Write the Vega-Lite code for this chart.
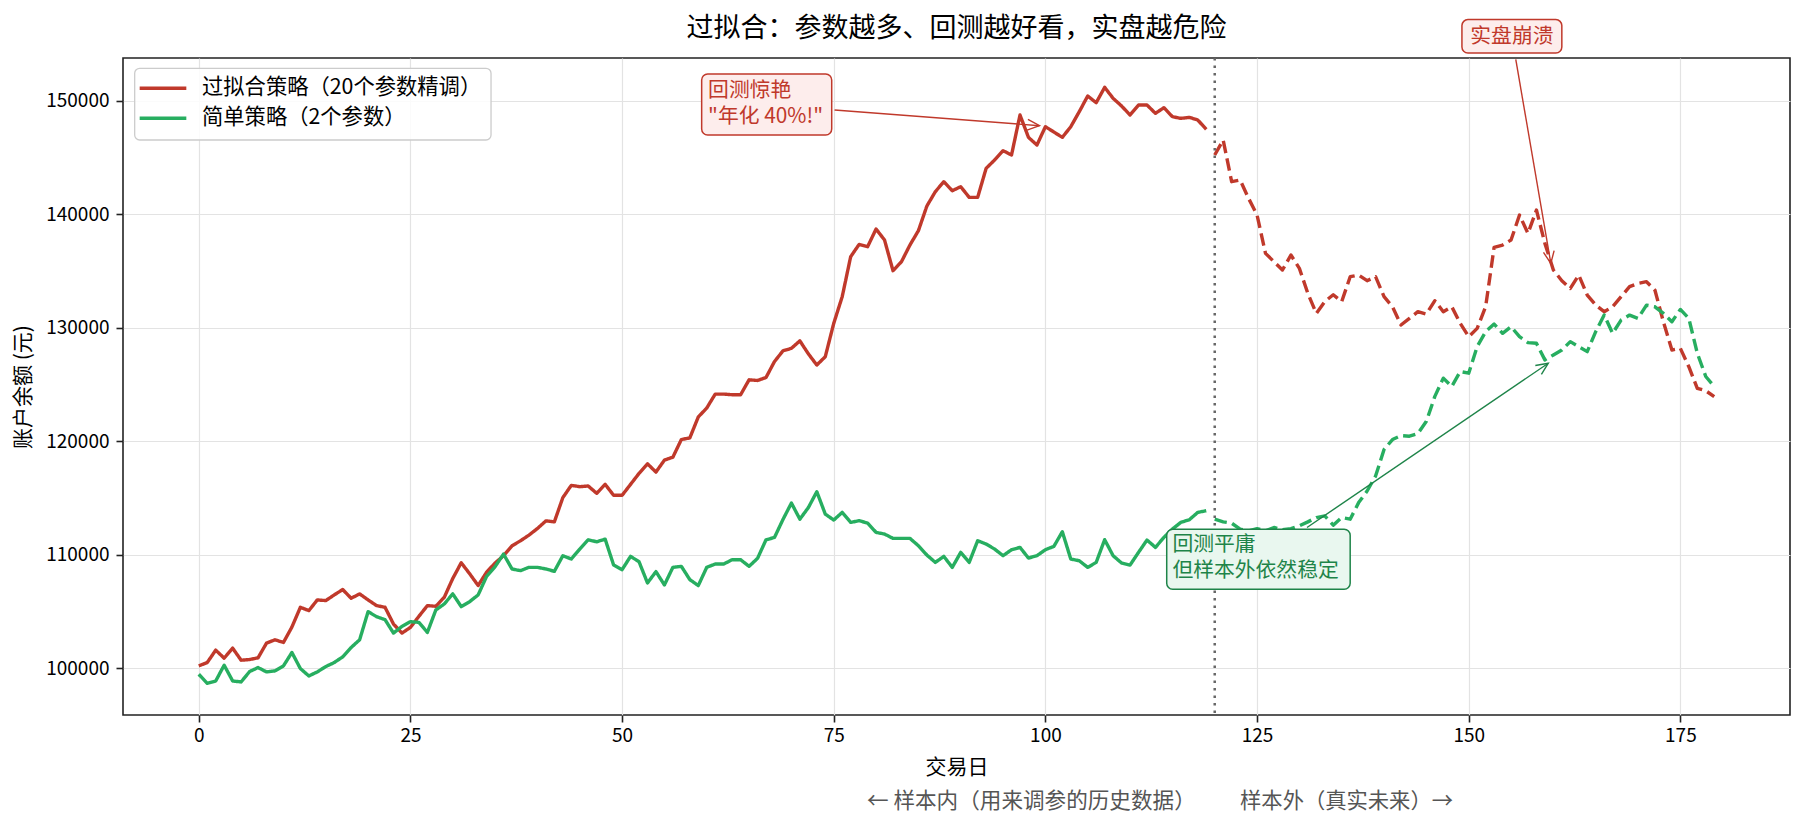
{
"$schema": "https://vega.github.io/schema/vega-lite/v6.json",
"autosize": {"type": "none"},
"padding": {"left": 123, "top": 58, "right": 14, "bottom": 110},
"width": 1667,
"height": 657,
"background": "white",
"title": {"text": "过拟合：参数越多、回测越好看，实盘越危险", "fontSize": 27, "fontWeight": "normal", "color": "#000000", "frame": "group", "anchor": "middle", "baseline": "alphabetic", "offset": -45},
"config": {
  "font": "Noto Sans CJK SC",
  "view": {"stroke": "#222222", "strokeWidth": 1.6},
  "axis": {"gridColor": "#e3e3e3", "gridWidth": 1.2, "tickColor": "#222222", "tickWidth": 1.6, "tickSize": 7, "labelColor": "#000000", "labelFontSize": 19, "titleFontSize": 21, "titleFontWeight": "normal", "titleColor": "#000000", "domain": false, "labelFlush": false, "labelOverlap": false}
},
"data": {"values": [
{"d":0,"s":"A","v":100206},{"d":1,"s":"A","v":100501},{"d":2,"s":"A","v":101593},{"d":3,"s":"A","v":100885},{"d":4,"s":"A","v":101770},{"d":5,"s":"A","v":100708},{"d":6,"s":"A","v":100767},{"d":7,"s":"A","v":100914},{"d":8,"s":"A","v":102212},{"d":9,"s":"A","v":102507},
{"d":10,"s":"A","v":102271},{"d":11,"s":"A","v":103628},{"d":12,"s":"A","v":105369},{"d":13,"s":"A","v":105074},{"d":14,"s":"A","v":106018},{"d":15,"s":"A","v":105959},{"d":16,"s":"A","v":106460},{"d":17,"s":"A","v":106932},{"d":18,"s":"A","v":106165},{"d":19,"s":"A","v":106549},
{"d":20,"s":"A","v":106018},{"d":21,"s":"A","v":105516},{"d":22,"s":"A","v":105369},{"d":23,"s":"A","v":103894},{"d":24,"s":"A","v":103097},{"d":25,"s":"A","v":103599},{"d":26,"s":"A","v":104572},{"d":27,"s":"A","v":105516},{"d":28,"s":"A","v":105457},{"d":29,"s":"A","v":106254},
{"d":30,"s":"A","v":107906},{"d":31,"s":"A","v":109292},{"d":32,"s":"A","v":108319},{"d":33,"s":"A","v":107286},{"d":34,"s":"A","v":108466},{"d":35,"s":"A","v":109270},{"d":36,"s":"A","v":109912},{"d":37,"s":"A","v":110789},{"d":38,"s":"A","v":111228},{"d":39,"s":"A","v":111725},
{"d":40,"s":"A","v":112310},{"d":41,"s":"A","v":112982},{"d":42,"s":"A","v":112895},{"d":43,"s":"A","v":115029},{"d":44,"s":"A","v":116111},{"d":45,"s":"A","v":115994},{"d":46,"s":"A","v":116053},{"d":47,"s":"A","v":115409},{"d":48,"s":"A","v":116199},{"d":49,"s":"A","v":115234},
{"d":50,"s":"A","v":115234},{"d":51,"s":"A","v":116199},{"d":52,"s":"A","v":117164},{"d":53,"s":"A","v":118012},{"d":54,"s":"A","v":117281},{"d":55,"s":"A","v":118333},{"d":56,"s":"A","v":118596},{"d":57,"s":"A","v":120146},{"d":58,"s":"A","v":120292},{"d":59,"s":"A","v":122135},
{"d":60,"s":"A","v":122924},{"d":61,"s":"A","v":124152},{"d":62,"s":"A","v":124152},{"d":63,"s":"A","v":124094},{"d":64,"s":"A","v":124094},{"d":65,"s":"A","v":125409},{"d":66,"s":"A","v":125351},{"d":67,"s":"A","v":125614},{"d":68,"s":"A","v":127018},{"d":69,"s":"A","v":127960},
{"d":70,"s":"A","v":128183},{"d":71,"s":"A","v":128840},{"d":72,"s":"A","v":127700},{"d":73,"s":"A","v":126711},{"d":74,"s":"A","v":127445},{"d":75,"s":"A","v":130382},{"d":76,"s":"A","v":132731},{"d":77,"s":"A","v":136256},{"d":78,"s":"A","v":137342},{"d":79,"s":"A","v":137137},
{"d":80,"s":"A","v":138693},{"d":81,"s":"A","v":137724},{"d":82,"s":"A","v":135022},{"d":83,"s":"A","v":135815},{"d":84,"s":"A","v":137284},{"d":85,"s":"A","v":138546},{"d":86,"s":"A","v":140720},{"d":87,"s":"A","v":141982},{"d":88,"s":"A","v":142863},{"d":89,"s":"A","v":142070},
{"d":90,"s":"A","v":142423},{"d":91,"s":"A","v":141483},{"d":92,"s":"A","v":141483},{"d":93,"s":"A","v":144038},{"d":94,"s":"A","v":144772},{"d":95,"s":"A","v":145595},{"d":96,"s":"A","v":145213},{"d":97,"s":"A","v":148737},{"d":98,"s":"A","v":146769},{"d":99,"s":"A","v":146094},
{"d":100,"s":"A","v":147709},{"d":101,"s":"A","v":147239},{"d":102,"s":"A","v":146769},{"d":103,"s":"A","v":147709},{"d":104,"s":"A","v":149031},{"d":105,"s":"A","v":150411},{"d":106,"s":"A","v":149824},{"d":107,"s":"A","v":151175},{"d":108,"s":"A","v":150206},{"d":109,"s":"A","v":149530},
{"d":110,"s":"A","v":148737},{"d":111,"s":"A","v":149618},{"d":112,"s":"A","v":149618},{"d":113,"s":"A","v":148884},{"d":114,"s":"A","v":149383},{"d":115,"s":"A","v":148590},{"d":116,"s":"A","v":148443},{"d":117,"s":"A","v":148532},{"d":118,"s":"A","v":148297},{"d":119,"s":"A","v":147474},
{"d":120,"s":"A","v":145213},{"d":121,"s":"A","v":146534},{"d":122,"s":"A","v":142863},{"d":123,"s":"A","v":143010},{"d":124,"s":"A","v":141395},{"d":125,"s":"A","v":139927},{"d":126,"s":"A","v":136549},{"d":127,"s":"A","v":135815},{"d":128,"s":"A","v":135081},{"d":129,"s":"A","v":136402},
{"d":130,"s":"A","v":135228},{"d":131,"s":"A","v":133025},{"d":132,"s":"A","v":131263},{"d":133,"s":"A","v":132300},{"d":134,"s":"A","v":132900},{"d":135,"s":"A","v":132300},{"d":136,"s":"A","v":134493},{"d":137,"s":"A","v":134640},{"d":138,"s":"A","v":134141},{"d":139,"s":"A","v":134493},
{"d":140,"s":"A","v":132731},{"d":141,"s":"A","v":131850},{"d":142,"s":"A","v":130235},{"d":143,"s":"A","v":130822},{"d":144,"s":"A","v":131410},{"d":145,"s":"A","v":131204},{"d":146,"s":"A","v":132379},{"d":147,"s":"A","v":131410},{"d":148,"s":"A","v":131850},{"d":149,"s":"A","v":130382},
{"d":150,"s":"A","v":129207},{"d":151,"s":"A","v":129941},{"d":152,"s":"A","v":131850},{"d":153,"s":"A","v":137078},{"d":154,"s":"A","v":137284},{"d":155,"s":"A","v":137724},{"d":156,"s":"A","v":139927},{"d":157,"s":"A","v":138311},{"d":158,"s":"A","v":140367},{"d":159,"s":"A","v":137430},
{"d":160,"s":"A","v":135081},{"d":161,"s":"A","v":134141},{"d":162,"s":"A","v":133465},{"d":163,"s":"A","v":134640},{"d":164,"s":"A","v":132878},{"d":165,"s":"A","v":131997},{"d":166,"s":"A","v":131410},{"d":167,"s":"A","v":131850},{"d":168,"s":"A","v":132731},{"d":169,"s":"A","v":133612},
{"d":170,"s":"A","v":133906},{"d":171,"s":"A","v":134053},{"d":172,"s":"A","v":133300},{"d":173,"s":"A","v":130500},{"d":174,"s":"A","v":128032},{"d":175,"s":"A","v":128179},{"d":176,"s":"A","v":126564},{"d":177,"s":"A","v":124655},{"d":178,"s":"A","v":124449},{"d":179,"s":"A","v":123921},
{"d":0,"s":"B","v":99469},{"d":1,"s":"B","v":98673},{"d":2,"s":"B","v":98879},{"d":3,"s":"B","v":100265},{"d":4,"s":"B","v":98879},{"d":5,"s":"B","v":98791},{"d":6,"s":"B","v":99705},{"d":7,"s":"B","v":100059},{"d":8,"s":"B","v":99676},{"d":9,"s":"B","v":99764},
{"d":10,"s":"B","v":100206},{"d":11,"s":"B","v":101386},{"d":12,"s":"B","v":99971},{"d":13,"s":"B","v":99322},{"d":14,"s":"B","v":99676},{"d":15,"s":"B","v":100147},{"d":16,"s":"B","v":100501},{"d":17,"s":"B","v":101003},{"d":18,"s":"B","v":101829},{"d":19,"s":"B","v":102507},
{"d":20,"s":"B","v":104985},{"d":21,"s":"B","v":104543},{"d":22,"s":"B","v":104277},{"d":23,"s":"B","v":103097},{"d":24,"s":"B","v":103687},{"d":25,"s":"B","v":104100},{"d":26,"s":"B","v":104041},{"d":27,"s":"B","v":103156},{"d":28,"s":"B","v":105133},{"d":29,"s":"B","v":105664},
{"d":30,"s":"B","v":106549},{"d":31,"s":"B","v":105428},{"d":32,"s":"B","v":105870},{"d":33,"s":"B","v":106460},{"d":34,"s":"B","v":108100},{"d":35,"s":"B","v":108950},{"d":36,"s":"B","v":110058},{"d":37,"s":"B","v":108743},{"d":38,"s":"B","v":108596},{"d":39,"s":"B","v":108889},
{"d":40,"s":"B","v":108889},{"d":41,"s":"B","v":108743},{"d":42,"s":"B","v":108538},{"d":43,"s":"B","v":109912},{"d":44,"s":"B","v":109620},{"d":45,"s":"B","v":110497},{"d":46,"s":"B","v":111316},{"d":47,"s":"B","v":111140},{"d":48,"s":"B","v":111374},{"d":49,"s":"B","v":109094},
{"d":50,"s":"B","v":108684},{"d":51,"s":"B","v":109854},{"d":52,"s":"B","v":109386},{"d":53,"s":"B","v":107515},{"d":54,"s":"B","v":108509},{"d":55,"s":"B","v":107339},{"d":56,"s":"B","v":108889},{"d":57,"s":"B","v":108977},{"d":58,"s":"B","v":107807},{"d":59,"s":"B","v":107281},
{"d":60,"s":"B","v":108889},{"d":61,"s":"B","v":109181},{"d":62,"s":"B","v":109181},{"d":63,"s":"B","v":109561},{"d":64,"s":"B","v":109561},{"d":65,"s":"B","v":108977},{"d":66,"s":"B","v":109678},{"d":67,"s":"B","v":111316},{"d":68,"s":"B","v":111520},{"d":69,"s":"B","v":113100},
{"d":70,"s":"B","v":114550},{"d":71,"s":"B","v":113135},{"d":72,"s":"B","v":114150},{"d":73,"s":"B","v":115551},{"d":74,"s":"B","v":113583},{"d":75,"s":"B","v":113054},{"d":76,"s":"B","v":113730},{"d":77,"s":"B","v":112849},{"d":78,"s":"B","v":112996},{"d":79,"s":"B","v":112790},
{"d":80,"s":"B","v":111968},{"d":81,"s":"B","v":111821},{"d":82,"s":"B","v":111439},{"d":83,"s":"B","v":111439},{"d":84,"s":"B","v":111439},{"d":85,"s":"B","v":110793},{"d":86,"s":"B","v":109971},{"d":87,"s":"B","v":109325},{"d":88,"s":"B","v":109853},{"d":89,"s":"B","v":108884},
{"d":90,"s":"B","v":110206},{"d":91,"s":"B","v":109325},{"d":92,"s":"B","v":111233},{"d":93,"s":"B","v":110940},{"d":94,"s":"B","v":110499},{"d":95,"s":"B","v":109912},{"d":96,"s":"B","v":110441},{"d":97,"s":"B","v":110646},{"d":98,"s":"B","v":109706},{"d":99,"s":"B","v":109912},
{"d":100,"s":"B","v":110441},{"d":101,"s":"B","v":110734},{"d":102,"s":"B","v":112026},{"d":103,"s":"B","v":109618},{"d":104,"s":"B","v":109471},{"d":105,"s":"B","v":108884},{"d":106,"s":"B","v":109325},{"d":107,"s":"B","v":111322},{"d":108,"s":"B","v":109912},{"d":109,"s":"B","v":109266},
{"d":110,"s":"B","v":109090},{"d":111,"s":"B","v":110206},{"d":112,"s":"B","v":111292},{"d":113,"s":"B","v":110646},{"d":114,"s":"B","v":111527},{"d":115,"s":"B","v":112261},{"d":116,"s":"B","v":112849},{"d":117,"s":"B","v":113084},{"d":118,"s":"B","v":113730},{"d":119,"s":"B","v":113877},
{"d":120,"s":"B","v":113129},{"d":121,"s":"B","v":112895},{"d":122,"s":"B","v":112778},{"d":123,"s":"B","v":112251},{"d":124,"s":"B","v":112100},{"d":125,"s":"B","v":112300},{"d":126,"s":"B","v":112100},{"d":127,"s":"B","v":112400},{"d":128,"s":"B","v":112200},{"d":129,"s":"B","v":112300},
{"d":130,"s":"B","v":112544},{"d":131,"s":"B","v":112895},{"d":132,"s":"B","v":113275},{"d":133,"s":"B","v":113421},{"d":134,"s":"B","v":112602},{"d":135,"s":"B","v":113275},{"d":136,"s":"B","v":113129},{"d":137,"s":"B","v":114591},{"d":138,"s":"B","v":115614},{"d":139,"s":"B","v":116930},
{"d":140,"s":"B","v":119269},{"d":141,"s":"B","v":120146},{"d":142,"s":"B","v":120497},{"d":143,"s":"B","v":120439},{"d":144,"s":"B","v":120673},{"d":145,"s":"B","v":121754},{"d":146,"s":"B","v":123947},{"d":147,"s":"B","v":125556},{"d":148,"s":"B","v":124825},{"d":149,"s":"B","v":126140},
{"d":150,"s":"B","v":125994},{"d":151,"s":"B","v":128333},{"d":152,"s":"B","v":129649},{"d":153,"s":"B","v":130322},{"d":154,"s":"B","v":129503},{"d":155,"s":"B","v":130088},{"d":156,"s":"B","v":129211},{"d":157,"s":"B","v":128684},{"d":158,"s":"B","v":128626},{"d":159,"s":"B","v":127164},
{"d":160,"s":"B","v":127602},{"d":161,"s":"B","v":128041},{"d":162,"s":"B","v":128772},{"d":163,"s":"B","v":128333},{"d":164,"s":"B","v":127895},{"d":165,"s":"B","v":129649},{"d":166,"s":"B","v":131111},{"d":167,"s":"B","v":129503},{"d":168,"s":"B","v":130673},{"d":169,"s":"B","v":131111},
{"d":170,"s":"B","v":130819},{"d":171,"s":"B","v":131988},{"d":172,"s":"B","v":131842},{"d":173,"s":"B","v":131257},{"d":174,"s":"B","v":130526},{"d":175,"s":"B","v":131608},{"d":176,"s":"B","v":130819},{"d":177,"s":"B","v":127749},{"d":178,"s":"B","v":125702},{"d":179,"s":"B","v":124825}
]},
"layer": [
{
  "transform": [{"calculate": "datum.d < 120 ? 'in' : 'out'", "as": "p"}],
  "mark": {"type": "line", "strokeWidth": 3.4, "strokeJoin": "round"},
  "encoding": {
    "x": {"field": "d", "type": "quantitative", "scale": {"domain": [-8.95, 187.95], "nice": false, "zero": false},
          "axis": {"values": [0, 25, 50, 75, 100, 125, 150, 175], "labelPadding": 4, "title": "交易日", "titleY": 52, "titleBaseline": "middle"}},
    "y": {"field": "v", "type": "quantitative", "scale": {"domain": [95880, 153760], "nice": false, "zero": false},
          "axis": {"values": [100000, 110000, 120000, 130000, 140000, 150000], "format": "d", "labelPadding": 7, "title": "账户余额 (元)", "titleX": -100, "titleY": 328.5, "titleAngle": 270, "titleAlign": "center", "titleBaseline": "middle"}},
    "color": {"field": "s", "type": "nominal", "scale": {"domain": ["A", "B"], "range": ["#c0392b", "#27ae60"]}, "legend": null},
    "strokeDash": {"field": "p", "type": "nominal", "scale": {"domain": ["in", "out"], "range": [[1, 0], [12.5, 5.5]]}, "legend": null}
  }
},
{
  "data": {"values": [{}]},
  "mark": {"type": "rule", "color": "#666666", "strokeWidth": 2.5, "strokeDash": [2.5, 5]},
  "encoding": {"x": {"datum": 120}}
},
{
  "data": {"values": [{}]},
  "mark": {"type": "rect", "fill": "#ffffff", "fillOpacity": 0.85, "stroke": "#cccccc", "strokeWidth": 1.3, "cornerRadius": 5},
  "encoding": {"x": {"datum": -7.57}, "x2": {"datum": 34.52}, "y": {"datum": 152853}, "y2": {"datum": 146536}}
},
{
  "data": {"values": [{}]},
  "mark": {"type": "rule", "color": "#c0392b", "strokeWidth": 3.4},
  "encoding": {"x": {"datum": -6.98}, "x2": {"datum": -1.47}, "y": {"datum": 151091}}
},
{
  "data": {"values": [{}]},
  "mark": {"type": "rule", "color": "#27ae60", "strokeWidth": 3.4},
  "encoding": {"x": {"datum": -6.98}, "x2": {"datum": -1.47}, "y": {"datum": 148448}}
},
{
  "data": {"values": [{}]},
  "mark": {"type": "text", "align": "left", "baseline": "middle", "fontSize": 21.3, "color": "#000000", "text": "过拟合策略（20个参数精调）"},
  "encoding": {"x": {"datum": 0.38}, "y": {"datum": 151091}}
},
{
  "data": {"values": [{}]},
  "mark": {"type": "text", "align": "left", "baseline": "middle", "fontSize": 21.3, "color": "#000000", "text": "简单策略（2个参数）"},
  "encoding": {"x": {"datum": 0.38}, "y": {"datum": 148448}}
},
{
  "data": {"values": [{}]},
  "mark": {"type": "rule", "color": "#c0392b", "strokeWidth": 1.4},
  "encoding": {"x": {"datum": 75.1}, "y": {"datum": 149178}, "x2": {"datum": 99.3}, "y2": {"datum": 147797}}
},
{
  "data": {"values": [{}]},
  "mark": {"type": "point", "shape": "M -1 -0.45 L 0 0 L -1 0.45", "filled": false, "size": 576, "stroke": "#c0392b", "strokeWidth": 1.4, "opacity": 1, "angle": 4.4},
  "encoding": {"x": {"datum": 99.3}, "y": {"datum": 147797}}
},
{
  "data": {"values": [{}]},
  "mark": {"type": "rect", "fill": "#fdedec", "stroke": "#c0392b", "strokeWidth": 1.5, "cornerRadius": 6},
  "encoding": {"x": {"datum": 59.4}, "x2": {"datum": 74.76}, "y": {"datum": 152350}, "y2": {"datum": 146978}}
},
{
  "data": {"values": [{}]},
  "mark": {"type": "text", "align": "left", "baseline": "middle", "fontSize": 20.8, "color": "#c0392b", "text": "回测惊艳"},
  "encoding": {"x": {"datum": 60.16}, "y": {"datum": 150853}}
},
{
  "data": {"values": [{}]},
  "mark": {"type": "text", "align": "left", "baseline": "middle", "fontSize": 20.8, "color": "#c0392b", "text": "\"年化 40%!\""},
  "encoding": {"x": {"datum": 60.16}, "y": {"datum": 148589}}
},
{
  "data": {"values": [{}]},
  "mark": {"type": "rule", "color": "#c0392b", "strokeWidth": 1.4},
  "encoding": {"x": {"datum": 155.56}, "y": {"datum": 153642}, "x2": {"datum": 159.7}, "y2": {"datum": 135668}}
},
{
  "data": {"values": [{}]},
  "mark": {"type": "point", "shape": "M -1 -0.45 L 0 0 L -1 0.45", "filled": false, "size": 576, "stroke": "#c0392b", "strokeWidth": 1.4, "opacity": 1, "angle": 80.3},
  "encoding": {"x": {"datum": 159.7}, "y": {"datum": 135668}}
},
{
  "data": {"values": [{}]},
  "mark": {"type": "rect", "fill": "#fdedec", "stroke": "#c0392b", "strokeWidth": 1.5, "cornerRadius": 6},
  "encoding": {"x": {"datum": 149.2}, "x2": {"datum": 161.0}, "y": {"datum": 157143}, "y2": {"datum": 154200}}
},
{
  "data": {"values": [{}]},
  "mark": {"type": "text", "align": "center", "baseline": "middle", "fontSize": 20.8, "color": "#c0392b", "text": "实盘崩溃"},
  "encoding": {"x": {"datum": 155.1}, "y": {"datum": 155610}}
},
{
  "data": {"values": [{}]},
  "mark": {"type": "rect", "fill": "#e9f7ef", "stroke": "#1e8449", "strokeWidth": 1.5, "cornerRadius": 6},
  "encoding": {"x": {"datum": 114.33}, "x2": {"datum": 136.0}, "y": {"datum": 112238}, "y2": {"datum": 106952}}
},
{
  "data": {"values": [{}]},
  "mark": {"type": "text", "align": "left", "baseline": "middle", "fontSize": 20.8, "color": "#1e8449", "text": "回测平庸"},
  "encoding": {"x": {"datum": 115.0}, "y": {"datum": 110855}}
},
{
  "data": {"values": [{}]},
  "mark": {"type": "text", "align": "left", "baseline": "middle", "fontSize": 20.8, "color": "#1e8449", "text": "但样本外依然稳定"},
  "encoding": {"x": {"datum": 115.0}, "y": {"datum": 108565}}
},
{
  "data": {"values": [{}]},
  "mark": {"type": "rule", "color": "#1e8449", "strokeWidth": 1.4},
  "encoding": {"x": {"datum": 130.9}, "y": {"datum": 112398}, "x2": {"datum": 159.4}, "y2": {"datum": 126871}}
},
{
  "data": {"values": [{}]},
  "mark": {"type": "point", "shape": "M -1 -0.45 L 0 0 L -1 0.45", "filled": false, "size": 576, "stroke": "#1e8449", "strokeWidth": 1.4, "opacity": 1, "angle": -34.25},
  "encoding": {"x": {"datum": 159.4}, "y": {"datum": 126871}}
},
{
  "data": {"values": [{}]},
  "mark": {"type": "text", "align": "right", "baseline": "middle", "fontSize": 21.6, "color": "#555555", "text": "← 样本内（用来调参的历史数据）"},
  "encoding": {"x": {"datum": 117.76}, "y": {"datum": 88187}}
},
{
  "data": {"values": [{}]},
  "mark": {"type": "text", "align": "left", "baseline": "middle", "fontSize": 21.3, "color": "#555555", "text": "样本外（真实未来）→"},
  "encoding": {"x": {"datum": 122.99}, "y": {"datum": 88187}}
}
]
}
